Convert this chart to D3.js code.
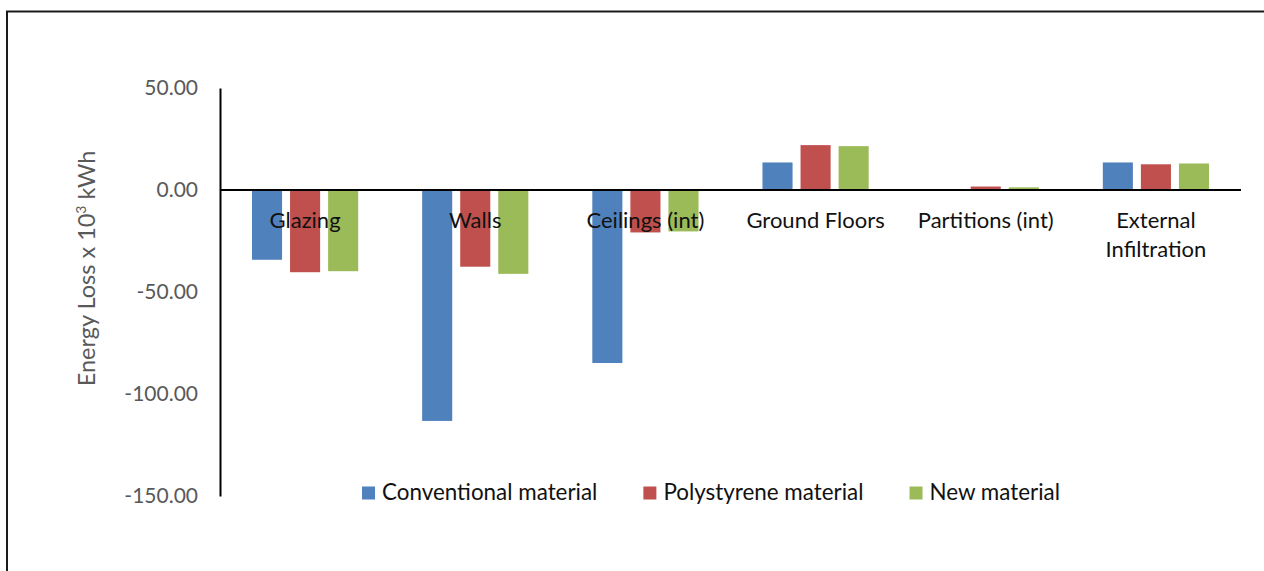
<!DOCTYPE html>
<html>
<head>
<meta charset="utf-8">
<script src="https://cdn.jsdelivr.net/npm/d3@7"></script>
<style>
  html, body { margin: 0; padding: 0; background: #fff; }
  svg { display: block; }
  text { font-family: Lato, "Open Sans", sans-serif; }
</style>
</head>
<body>
<script>
// Building elements and energy loss per insulation option (x 10^3 kWh)
const categories = ["Glazing", "Walls", "Ceilings (int)", "Ground Floors", "Partitions (int)", "External Infiltration"];
const categoryLines = [["Glazing"], ["Walls"], ["Ceilings (int)"], ["Ground Floors"], ["Partitions (int)"], ["External", "Infiltration"]];
const seriesNames = ["Conventional material", "Polystyrene material", "New material"];
const conventional = [-34.2, -113.2, -84.8, 13.5, 0.0, 13.5];
const polystyrene = [-40.3, -37.6, -20.8, 22.0, 1.7, 12.6];
const newMaterial = [-39.8, -41.1, -20.3, 21.5, 1.3, 13.0];
const yTicks = [50, 0, -50, -100, -150];
const colors = ["#4F81BD", "#C0504D", "#9BBB59"];

const W = 1264, H = 571;
const seriesValues = [conventional, polystyrene, newMaterial];

const svg = d3.select("body").append("svg").attr("width", W).attr("height", H);

// Outer chart frame (right and bottom edges fall outside the view)
svg.append("rect")
  .attr("x", 7).attr("y", 11.5)
  .attr("width", W + 50).attr("height", H + 50)
  .attr("fill", "none").attr("stroke", "#1a1a1a").attr("stroke-width", 2);

const plotLeft = 220, plotRight = 1241, plotTop = 88, plotBottom = 496;

const y = d3.scaleLinear().domain([-150, 50]).range([plotBottom, plotTop]);
const x0 = d3.scaleBand().domain(categories).range([plotLeft, plotRight]).padding(0);
const x1 = d3.scaleBand().domain(seriesNames).range([0, x0.bandwidth()])
  .paddingInner(0.21).paddingOuter(0.84);

// Bars
const groups = svg.append("g").selectAll("g")
  .data(categories)
  .join("g")
  .attr("transform", d => `translate(${x0(d)},0)`);

groups.selectAll("rect")
  .data((c, i) => seriesNames.map((s, k) => ({ s, k, v: seriesValues[k][i] })))
  .join("rect")
  .attr("x", d => x1(d.s))
  .attr("width", x1.bandwidth())
  .attr("y", d => Math.min(y(d.v), y(0)))
  .attr("height", d => Math.abs(y(d.v) - y(0)))
  .attr("fill", d => colors[d.k]);

// Zero baseline
svg.append("line")
  .attr("x1", plotLeft).attr("x2", plotRight)
  .attr("y1", y(0)).attr("y2", y(0))
  .attr("stroke", "#000").attr("stroke-width", 2);

// Y axis (plain hyphen for negatives)
const fmt = d3.format(".2f");
const yAxis = svg.append("g")
  .attr("transform", `translate(${plotLeft},0)`)
  .call(d3.axisLeft(y).tickValues(yTicks).tickSize(0).tickPadding(22)
    .tickFormat(d => fmt(d).replace("\u2212", "-")));
yAxis.select(".domain").attr("stroke", "#000").attr("stroke-width", 2);
yAxis.selectAll("text")
  .attr("fill", "#595959").style("font-size", "21px")
  .style("font-family", "Lato, sans-serif");

// Category labels next to the zero line
const catLabels = svg.append("g").selectAll("text")
  .data(categories)
  .join("text")
  .attr("x", d => x0(d) + x0.bandwidth() / 2)
  .attr("y", y(0) + 38)
  .attr("text-anchor", "middle")
  .attr("fill", "#111")
  .style("font-size", "22px");
catLabels.each(function (d, i) {
  const t = d3.select(this);
  categoryLines[i].forEach((ln, j) => {
    t.append("tspan")
      .attr("x", x0(d) + x0.bandwidth() / 2)
      .attr("dy", j === 0 ? 0 : 28.5)
      .text(ln);
  });
});

// Y axis title
svg.append("text")
  .attr("transform", `translate(95,${(150 + 387) / 2}) rotate(-90)`)
  .attr("text-anchor", "middle")
  .attr("fill", "#595959")
  .style("font-size", "23.5px")
  .html('Energy Loss x 10<tspan dy="-9" style="font-size:14px">3</tspan><tspan dy="9"> kWh</tspan>');

// Legend
const legend = svg.append("g");
const items = legend.selectAll("g").data(seriesNames).join("g");
items.append("rect")
  .attr("width", 13).attr("height", 13)
  .attr("y", -13.5)
  .attr("fill", (d, i) => colors[i]);
items.append("text")
  .attr("x", 20).attr("y", 0)
  .attr("fill", "#111")
  .style("font-size", "22.4px")
  .text(d => d);
const itemGap = 46;
let cursor = 0;
items.each(function () {
  const g = d3.select(this);
  g.attr("transform", `translate(${cursor},0)`);
  cursor += 20 + g.select("text").node().getComputedTextLength() + itemGap;
});
const legendWidth = cursor - itemGap;
legend.attr("transform", `translate(${711 - legendWidth / 2},${500})`);
</script>
</body>
</html>
